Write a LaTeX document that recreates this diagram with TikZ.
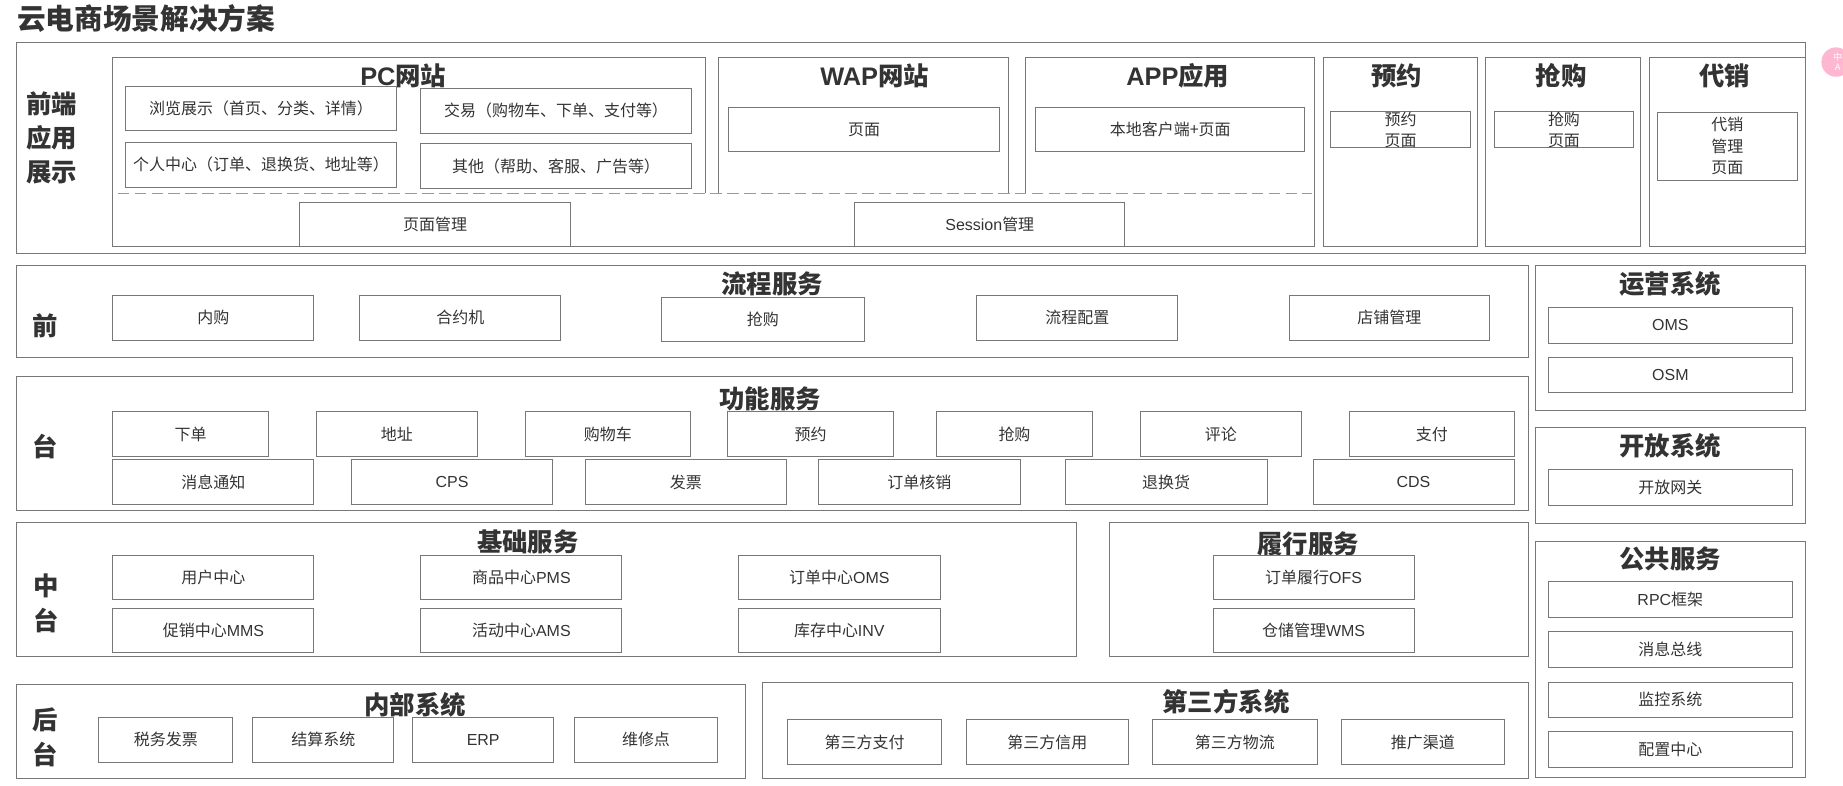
\documentclass[tikz,border=0pt]{standalone}
\usepackage{fontspec}
\setmainfont{Noto Sans CJK SC}
\newfontfamily\latf{Liberation Sans}
\newcommand{\lat}[1]{{\latf #1}}
\definecolor{ln}{HTML}{777777}
\definecolor{tx}{HTML}{333333}
\definecolor{dashc}{HTML}{35BDF2}
\definecolor{widget}{HTML}{FDB7D1}
\newcounter{bxn}
\tikzset{
  x=0.5pt,y=-0.5pt,
  frame/.style={draw=ln,line width=0.42pt,inner sep=0pt,outer sep=0pt},
  boxtext/.style={text=tx,font=\fontsize{6.8}{9}\selectfont,align=center},
  headtext/.style={text=tx,font=\fontsize{10.8}{13}\selectfont\bfseries,inner sep=0pt},
  sidetext/.style={text=tx,font=\fontsize{10.8}{14.5}\selectfont\bfseries,align=center,inner sep=0pt},
}
\newcommand{\bx}[5]{%
  \stepcounter{bxn}%
  \pgfmathsetmacro\bxw{(#3-#1)*0.5}\pgfmathsetmacro\bxh{(#4-#2)*0.5}%
  \node[frame,boxtext,minimum width=\bxw pt,minimum height=\bxh pt] (b\thebxn) at ({(#1+#3)/2},{(#2+#4)/2}) {#5};}
\newcommand{\hd}[3]{\stepcounter{bxn}\node[headtext] (h\thebxn) at (#1,#2) {#3};}
\begin{document}
\begin{tikzpicture}
\useasboundingbox (-0.1,-0.3) rectangle (1567.9,667.7);
% title
\node[text=tx,font=\fontsize{12.2}{14}\selectfont\bfseries,anchor=west,inner sep=0pt] (title) at (14,15.5) {云电商场景解决方案};
% front end
\bx{14}{36}{1536}{215}{}
\draw[ln,line width=0.42pt] (600,164) -- (600,49) -- (96,49) -- (96,209) -- (1118,209) -- (1118,49) -- (872,49) -- (872,164);
\draw[ln,line width=0.42pt] (611,164) -- (611,49) -- (858,49) -- (858,164);
\draw[dashc,line width=0.38pt,dash pattern=on 5pt off 2.2pt] (100,164) -- (1116,164);
\node[sidetext] (side1) at (44,117) {前端\\应用\\展示};
\hd{343}{64}{\lat{PC}网站}
\hd{744}{64}{\lat{WAP}网站}
\hd{1002}{64}{\lat{APP}应用}
\bx{1126}{49}{1257}{209}{}
\bx{1264}{49}{1396}{209}{}
\bx{1403}{49}{1536}{209}{}
\hd{1188}{64}{预约}
\hd{1328}{64}{抢购}
\hd{1467}{64}{代销}
\bx{107}{73}{337}{111}{浏览展示（首页、分类、详情）}
\bx{107}{121}{337}{159}{个人中心（订单、退换货、地址等）}
\bx{358}{75}{588}{113}{交易（购物车、下单、支付等）}
\bx{358}{122}{588}{160}{其他（帮助、客服、广告等）}
\bx{620}{91}{850}{129}{页面}
\bx{881}{91}{1110}{129}{本地客户端+页面}
\bx{255}{172}{485}{209}{页面管理}
\bx{727}{172}{957}{209}{\lat{Session}管理}
\bx{1132}{95}{1251}{125}{预约\\页面}
\bx{1271}{95}{1390}{125}{抢购\\页面}
\bx{1410}{95}{1529}{153}{代销\\管理\\页面}
% widget
\fill[widget] (1562,52.5) circle (12.5);
\node[text=white,font=\fontsize{3.8}{4.2}\selectfont,align=center,inner sep=0pt] (wid) at (1563.5,52.5) {中\\A};
% process
\bx{14}{226}{1300}{304}{}
\hd{657}{241}{流程服务}
\node[sidetext] (side2) at (38,277) {前};
\bx{96}{251}{267}{289}{内购}
\bx{306}{251}{477}{289}{合约机}
\bx{563}{253}{735}{290}{抢购}
\bx{831}{251}{1002}{289}{流程配置}
\bx{1097}{251}{1267}{289}{店铺管理}
% function
\bx{14}{320}{1300}{434}{}
\hd{655}{339}{功能服务}
\node[sidetext] (side3) at (38,380) {台};
\bx{96}{350}{228}{388}{下单}
\bx{269}{350}{406}{388}{地址}
\bx{447}{350}{587}{388}{购物车}
\bx{619}{350}{760}{388}{预约}
\bx{797}{350}{929}{388}{抢购}
\bx{970}{350}{1107}{388}{评论}
\bx{1148}{350}{1288}{388}{支付}
\bx{96}{391}{267}{429}{消息通知}
\bx{299}{391}{470}{429}{\lat{CPS}}
\bx{498}{391}{669}{429}{发票}
\bx{696}{391}{868}{429}{订单核销}
\bx{906}{391}{1078}{429}{退换货}
\bx{1117}{391}{1288}{429}{\lat{CDS}}
% base
\bx{14}{444}{916}{558}{}
\hd{449}{461}{基础服务}
\node[sidetext] (side4) at (39,513) {中\\台};
\bx{96}{472}{267}{510}{用户中心}
\bx{358}{472}{529}{510}{商品中心\lat{PMS}}
\bx{628}{472}{800}{510}{订单中心\lat{OMS}}
\bx{96}{517}{267}{555}{促销中心\lat{MMS}}
\bx{358}{517}{529}{555}{活动中心\lat{AMS}}
\bx{628}{517}{800}{555}{库存中心\lat{INV}}
\bx{944}{444}{1300}{558}{}
\hd{1113}{462}{履行服务}
\bx{1032}{472}{1203}{510}{订单履行\lat{OFS}}
\bx{1032}{517}{1203}{555}{仓储管理\lat{WMS}}
% back
\bx{14}{582}{634}{662}{}
\hd{353}{599}{内部系统}
\node[sidetext] (side5) at (38,627) {后\\台};
\bx{84}{610}{198}{648}{税务发票}
\bx{215}{610}{335}{648}{结算系统}
\bx{351}{610}{471}{648}{\lat{ERP}}
\bx{489}{610}{610}{648}{维修点}
\bx{649}{580}{1300}{662}{}
\hd{1043}{597}{第三方系统}
\bx{670}{612}{801}{650}{第三方支付}
\bx{822}{612}{960}{650}{第三方信用}
\bx{980}{612}{1121}{650}{第三方物流}
\bx{1141}{612}{1280}{650}{推广渠道}
% right
\bx{1306}{226}{1536}{349}{}
\hd{1421}{241}{运营系统}
\bx{1317}{261}{1525}{292}{\lat{OMS}}
\bx{1317}{304}{1525}{334}{\lat{OSM}}
\bx{1306}{363}{1536}{445}{}
\hd{1421}{379}{开放系统}
\bx{1317}{399}{1525}{430}{开放网关}
\bx{1306}{460}{1536}{661}{}
\hd{1421}{475}{公共服务}
\bx{1317}{494}{1525}{525}{\lat{RPC}框架}
\bx{1317}{537}{1525}{568}{消息总线}
\bx{1317}{580}{1525}{610}{监控系统}
\bx{1317}{622}{1525}{653}{配置中心}
\end{tikzpicture}
\end{document}
